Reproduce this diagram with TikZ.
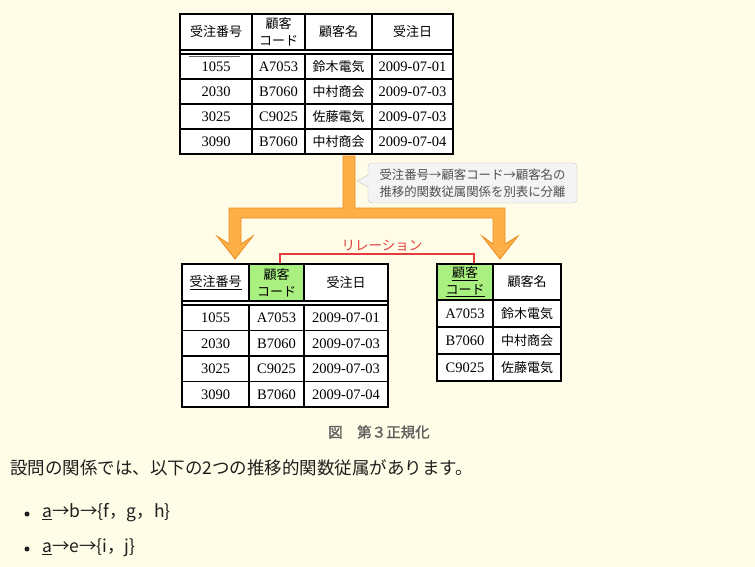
\documentclass[tikz,border=0pt]{standalone}
\usepackage{fontspec}
\setmainfont{Liberation Serif}
\newfontfamily\jp{Noto Sans CJK JP}
\newfontfamily\jpb[FakeBold=1.5]{Noto Sans CJK JP}
\usetikzlibrary{calc}
\definecolor{bg}{RGB}{255,253,231}
\definecolor{keygreen}{RGB}{170,240,128}
\definecolor{orfill}{RGB}{253,176,72}
\definecolor{ordraw}{RGB}{236,140,30}
\definecolor{relred}{RGB}{226,60,60}
\definecolor{callfill}{RGB}{244,244,244}
\definecolor{calldraw}{RGB}{196,196,196}
\definecolor{calltext}{RGB}{80,80,80}
\definecolor{captext}{RGB}{95,95,95}
\definecolor{bodytext}{RGB}{30,30,30}
\newcommand\tcell[7][]{\node[cell,minimum width={#4pt-#2pt},minimum height={#5pt-#3pt},#1] (#7) at ({(#2+#4)/2},{(#3+#5)/2}) {#6};}
\begin{document}
\begin{tikzpicture}[x=1pt,y=-1pt,
  cell/.style={draw=black,line width=1.2pt,fill=white,inner sep=0pt,align=center,
    font=\fontsize{14.5}{16}\selectfont},
  jcell/.style={font=\jp\fontsize{13}{17}\selectfont},
  keycell/.style={fill=keygreen},
  tabframe/.style={draw=black,line width=1.2pt,fill=white},
  arrowshape/.style={draw=ordraw,fill=orfill,line width=0.8pt,line join=miter},
  relline/.style={draw=relred,line width=2pt},
  bodyfont/.style={font=\jp\fontsize{17.5}{20}\selectfont,text=bodytext,inner sep=0pt}]
\fill[bg] (0,0) rectangle (755,567);
\useasboundingbox (0,0) rectangle (755,567);

% ---------- top table ----------
\draw[tabframe] (180,14) rectangle (453,154);
\tcell[jcell]{180}{14}{252}{50}{受注番号}{t1h1}
\tcell[jcell]{252}{14}{305}{50}{顧客\\コード}{t1h2}
\tcell[jcell]{305}{14}{372}{50}{顧客名}{t1h3}
\tcell[jcell]{372}{14}{453}{50}{受注日}{t1h4}
\foreach \n/\c/\nm/\d [count=\i, evaluate=\i as \ya using 29+25*\i, evaluate=\i as \yb using 54+25*\i] in
  {1055/A7053/鈴木電気/2009-07-01, 2030/B7060/中村商会/2009-07-03,
   3025/C9025/佐藤電気/2009-07-03, 3090/B7060/中村商会/2009-07-04}{
  \tcell{180}{\ya}{252}{\yb}{\n}{t1r\i-1}
  \tcell{252}{\ya}{305}{\yb}{\c}{t1r\i-2}
  \tcell[jcell]{305}{\ya}{372}{\yb}{\nm}{t1r\i-3}
  \tcell{372}{\ya}{453}{\yb}{\d}{t1r\i-4}
}
\draw[black!60,line width=1.3pt] (189,56.5) -- (240,56.5);

% ---------- orange split arrow ----------
\draw[arrowshape] (343,156) -- (355,156) -- (355,208) -- (505,208) -- (505,244)
  -- (518,236) -- (500,259) -- (482,236) -- (493,244) -- (493,218) -- (241,218)
  -- (241,244) -- (253,236) -- (235,259) -- (217,236) -- (229,244) -- (229,208)
  -- (343,208) -- cycle;

% ---------- callout ----------
\node[draw=calldraw,fill=callfill,rounded corners=4pt,minimum width=209pt,minimum height=40pt,
  inner sep=0pt,align=center,text=calltext,font=\jp\fontsize{12.4}{17}\selectfont]
  (note) at (472.5,183) {受注番号→顧客コード→顧客名の\\推移的関数従属関係を別表に分離};
\fill[callfill] (369,174.5) -- (357,181) -- (369,187.5) -- cycle;
\draw[calldraw,line width=0.4pt] (368,175) -- (357,181) -- (368,187);

% ---------- bottom left table ----------
\draw[tabframe] (182,264) rectangle (388,407);
\tcell[jcell]{182}{264}{249}{301}{\underline{受注番号}}{t2h1}
\tcell[jcell,keycell]{249}{264}{304}{301}{顧客\\コード}{t2h2}
\tcell[jcell]{304}{264}{388}{301}{受注日}{t2h3}
\foreach \n/\c/\d [count=\i, evaluate=\i as \ya using 279.5+25.5*\i, evaluate=\i as \yb using 305+25.5*\i] in
  {1055/A7053/2009-07-01, 2030/B7060/2009-07-03,
   3025/C9025/2009-07-03, 3090/B7060/2009-07-04}{
  \tcell{182}{\ya}{249}{\yb}{\n}{t2r\i-1}
  \tcell{249}{\ya}{304}{\yb}{\c}{t2r\i-2}
  \tcell{304}{\ya}{388}{\yb}{\d}{t2r\i-3}
}

% ---------- bottom right table ----------
\tcell[jcell,keycell]{437}{264}{493}{300}{\underline{顧客}\\\underline{コード}}{t3h1}
\tcell[jcell]{493}{264}{561}{300}{顧客名}{t3h2}
\foreach \c/\nm [count=\i, evaluate=\i as \ya using 273+27*\i, evaluate=\i as \yb using 300+27*\i] in
  {A7053/鈴木電気, B7060/中村商会, C9025/佐藤電気}{
  \tcell{437}{\ya}{493}{\yb}{\c}{t3r\i-1}
  \tcell[jcell]{493}{\ya}{561}{\yb}{\nm}{t3r\i-2}
}

% ---------- relation ----------
\coordinate (relL) at ($(t2h2.north west)!0.56!(t2h2.north east)$);
\coordinate (relR) at ($(t3h1.north west)!0.66!(t3h1.north east)$);
\draw[relline] (relL) -- ++(0,-9) -| (relR);
\node[text=relred,font=\jp\fontsize{13.5}{16}\selectfont,inner sep=0pt] (rel) at (382,246) {リレーション};

% ---------- caption and body ----------
\node[anchor=west,inner sep=0pt,text=captext,font=\jpb\fontsize{14.5}{17}\selectfont] (cap) at (328,432) {図　第３正規化};
\node[bodyfont,anchor=west] (body) at (10,468) {設問の関係では、以下の2つの推移的関数従属があります。};
\fill[bodytext] (27,514) circle (2.5) coordinate (b1);
\fill[bodytext] (27,549) circle (2.5) coordinate (b2);
\node[bodyfont,anchor=west] (item1) at (42,513) {\underline{a}→b→\{f，g，h\}};
\node[bodyfont,anchor=west] (item2) at (42,548) {\underline{a}→e→\{i，j\}};
\end{tikzpicture}
\end{document}
